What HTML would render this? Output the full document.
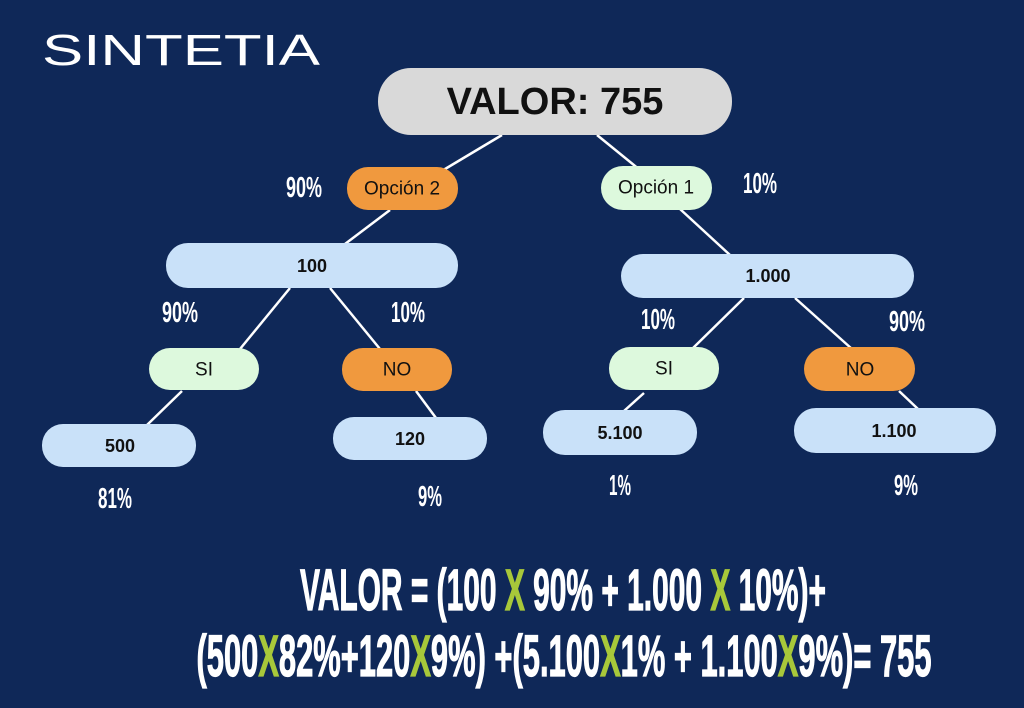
<!DOCTYPE html>
<html><head><meta charset="utf-8"><style>
html,body{margin:0;padding:0;background:#0f2858;}
svg{display:block}
.n{font-family:"Liberation Sans",sans-serif;fill:#111;text-anchor:middle;dominant-baseline:central}
.p{font-family:"Liberation Sans Narrow","Liberation Sans",sans-serif;font-weight:bold;fill:#fff;text-anchor:middle}
</style></head><body>
<svg width="1024" height="708" viewBox="0 0 1024 708" xmlns="http://www.w3.org/2000/svg">
<rect width="1024" height="708" fill="#0f2858"/>
<text x="42" y="65" font-family="Liberation Sans, sans-serif" font-size="44" fill="#fff" textLength="278" lengthAdjust="spacingAndGlyphs">SINTETIA</text>
<g stroke="#fff" stroke-width="2.5">
<line x1="502" y1="135" x2="430" y2="178"/>
<line x1="597" y1="135" x2="640" y2="170"/>
<line x1="390" y1="210" x2="345" y2="244"/>
<line x1="680" y1="209" x2="730" y2="255"/>
<line x1="290" y1="288" x2="240" y2="349"/>
<line x1="330" y1="288" x2="380" y2="349"/>
<line x1="744" y1="298" x2="691" y2="350"/>
<line x1="795" y1="298" x2="852" y2="349"/>
<line x1="182" y1="391" x2="147" y2="425"/>
<line x1="416" y1="391" x2="436" y2="418"/>
<line x1="644" y1="393" x2="624" y2="411"/>
<line x1="899" y1="391" x2="918" y2="409"/>
</g>
<rect x="378" y="68" width="354" height="67" rx="33" fill="#d9d9d9"/>
<text class="n" x="555" y="102" font-size="38" font-weight="bold">VALOR: 755</text>
<rect x="347" y="167" width="111" height="43" rx="21" fill="#f0993e"/>
<text class="n" x="402" y="189" font-size="19">Opción 2</text>
<rect x="601" y="166" width="111" height="44" rx="22" fill="#ddf9dd"/>
<text class="n" x="656" y="188" font-size="19">Opción 1</text>
<rect x="166" y="243" width="292" height="45" rx="22" fill="#c9e1f9"/>
<text class="n" x="312" y="266" font-size="18" font-weight="bold">100</text>
<rect x="621" y="254" width="293" height="44" rx="22" fill="#c9e1f9"/>
<text class="n" x="768" y="276" font-size="18" font-weight="bold">1.000</text>
<rect x="149" y="348" width="110" height="42" rx="21" fill="#ddf9dd"/>
<text class="n" x="204" y="370" font-size="19">SI</text>
<rect x="342" y="348" width="110" height="43" rx="21" fill="#f0993e"/>
<text class="n" x="397" y="370" font-size="19">NO</text>
<rect x="609" y="347" width="110" height="43" rx="21" fill="#ddf9dd"/>
<text class="n" x="664" y="369" font-size="19">SI</text>
<rect x="804" y="347" width="111" height="44" rx="22" fill="#f0993e"/>
<text class="n" x="860" y="370" font-size="19">NO</text>
<rect x="42" y="424" width="154" height="43" rx="21" fill="#c9e1f9"/>
<text class="n" x="120" y="446" font-size="18" font-weight="bold">500</text>
<rect x="333" y="417" width="154" height="43" rx="21" fill="#c9e1f9"/>
<text class="n" x="410" y="439" font-size="18" font-weight="bold">120</text>
<rect x="543" y="410" width="154" height="45" rx="22" fill="#c9e1f9"/>
<text class="n" x="620" y="433" font-size="18" font-weight="bold">5.100</text>
<rect x="794" y="408" width="202" height="45" rx="22" fill="#c9e1f9"/>
<text class="n" x="894" y="431" font-size="18" font-weight="bold">1.100</text>
<g>
<text class="p" font-size="29" x="304" y="197" textLength="36" lengthAdjust="spacingAndGlyphs">90%</text>
<text class="p" font-size="29" x="760" y="193" textLength="34" lengthAdjust="spacingAndGlyphs">10%</text>
<text class="p" font-size="29" x="180" y="322" textLength="36" lengthAdjust="spacingAndGlyphs">90%</text>
<text class="p" font-size="29" x="408" y="322" textLength="34" lengthAdjust="spacingAndGlyphs">10%</text>
<text class="p" font-size="29" x="658" y="329" textLength="34" lengthAdjust="spacingAndGlyphs">10%</text>
<text class="p" font-size="29" x="907" y="331" textLength="36" lengthAdjust="spacingAndGlyphs">90%</text>
<text class="p" font-size="29" x="115" y="508" textLength="34" lengthAdjust="spacingAndGlyphs">81%</text>
<text class="p" font-size="29" x="430" y="506" textLength="24" lengthAdjust="spacingAndGlyphs">9%</text>
<text class="p" font-size="29" x="620" y="495" textLength="22" lengthAdjust="spacingAndGlyphs">1%</text>
<text class="p" font-size="29" x="906" y="495" textLength="24" lengthAdjust="spacingAndGlyphs">9%</text>
</g>
<text class="p" x="563" y="610" font-size="58" stroke="#fff" stroke-width="1.2" textLength="526" lengthAdjust="spacingAndGlyphs">VALOR = (100 <tspan fill="#a8c83a" stroke="#a8c83a">X</tspan> 90% + 1.000 <tspan fill="#a8c83a" stroke="#a8c83a">X</tspan> 10%)+</text>
<text class="p" x="564" y="676" font-size="58" stroke="#fff" stroke-width="1.2" textLength="735" lengthAdjust="spacingAndGlyphs">(500<tspan fill="#a8c83a" stroke="#a8c83a">X</tspan>82%+120<tspan fill="#a8c83a" stroke="#a8c83a">X</tspan>9%) +(5.100<tspan fill="#a8c83a" stroke="#a8c83a">X</tspan>1% + 1.100<tspan fill="#a8c83a" stroke="#a8c83a">X</tspan>9%)= 755</text>
</svg>
</body></html>
